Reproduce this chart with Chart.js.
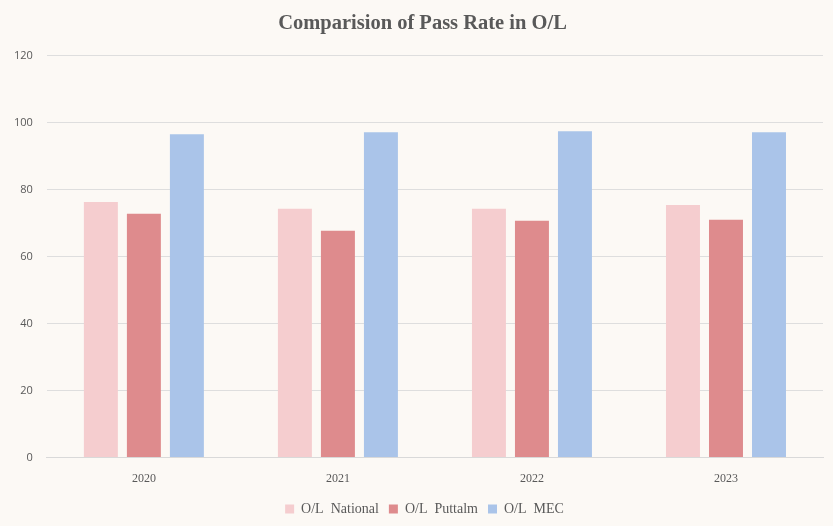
<!DOCTYPE html>
<html>
<head>
<meta charset="utf-8">
<script src="https://cdn.jsdelivr.net/npm/chart.js@4"></script>
<style>
    html,body{margin:0;padding:0;background:#fcf9f5;}
    #wrap{width:833px;height:526px;}
</style>
</head>
<body>
<div id="wrap"><canvas id="chart"></canvas></div>
<script>
const years = ["2020","2021","2022","2023"];

const national = [76.3, 74.3, 74.3, 75.4];
const puttalm = [72.8, 67.7, 70.7, 71.0];
const mec = [96.5, 97.1, 97.4, 97.1];

const yTicks = [0,20,40,60,80,100,120];

const serif = "'Liberation Serif', 'DejaVu Serif', serif";

const bg = {
    id:"bg",
    beforeDraw(c){
        const ctx = c.ctx;
        ctx.save();
        ctx.fillStyle = "#fcf9f5";
        ctx.fillRect(0,0,c.width,c.height);
        ctx.restore();
    }
};

// title and legend sit a little right of centre in the original
const nudge = {
    id:"nudge",
    afterLayout(c){
        if(c.titleBlock){
            c.titleBlock.left += 11;
            c.titleBlock.right += 11;
        }
        if(c.legend){
            c.legend.left += 13;
            c.legend.right += 13;
        }
    }
};

const chart = new Chart(
    document.getElementById("chart"),
    {
        type:"bar",
        data:{
            labels:years,
            datasets:[
                {label:"O/L  National", data:national, backgroundColor:"#f5cdcf"},
                {label:"O/L  Puttalm", data:puttalm, backgroundColor:"#de8b8d"},
                {label:"O/L  MEC", data:mec, backgroundColor:"#aac4e9"}
            ]
        },
        options:{
            responsive:true,
            maintainAspectRatio:false,
            animation:false,
            categoryPercentage:0.665,
            barPercentage:0.79,
            layout:{padding:{left:0,right:10,top:0,bottom:0}},
            plugins:{
                title:{
                    display:true,
                    text:"Comparision of Pass Rate in O/L",
                    color:"#595959",
                    font:{family:serif, size:20.5, weight:"bold"},
                    padding:{top:11,bottom:20}
                },
                legend:{
                    position:"bottom",
                    labels:{
                        color:"#595959",
                        font:{family:serif, size:14},
                        boxWidth:9,
                        boxHeight:9,
                        padding:10
                    }
                },
                tooltip:{enabled:false}
            },
            scales:{
                x:{
                    grid:{display:false},
                    border:{color:"#d9d9d9"},
                    ticks:{color:"#595959", font:{family:serif, size:12}, padding:6}
                },
                y:{
                    min:0,
                    max:120,
                    afterBuildTicks(axis){
                        axis.ticks = yTicks.map(v => ({value:v}));
                    },
                    grid:{color:"#dedede", drawTicks:false},
                    border:{display:false},
                    ticks:{color:"#595959", font:{family:"'Open Sans', sans-serif", size:11}, padding:14}
                }
            }
        },
        plugins:[bg, nudge]
    }
);
</script>
</body>
</html>
